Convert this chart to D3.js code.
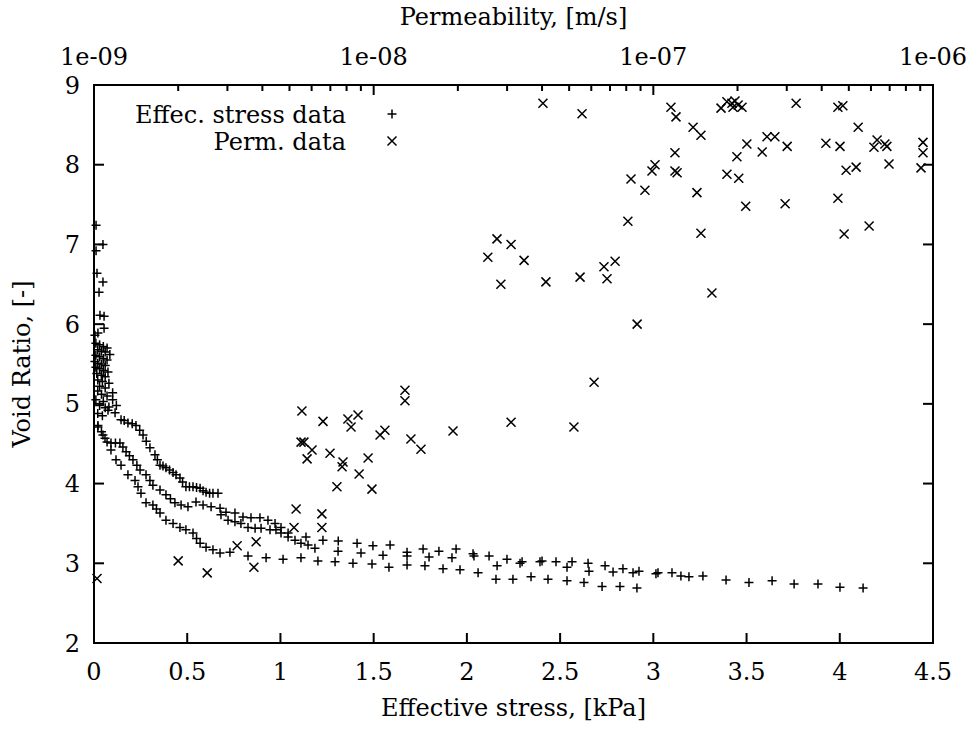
<!DOCTYPE html>
<html>
<head>
<meta charset="utf-8">
<script src="https://cdn.jsdelivr.net/npm/d3@7"></script>
<style>
  body { margin: 0; background: #fff; }
  text { font-family: "DejaVu Serif", serif; fill: #000; }
</style>
</head>
<body>
<div id="chart"></div>
<script>
// Effective stress data, [kPa] vs void ratio
const stressKPa = [
  0.011, 0.048, 0.011, 0.016, 0.048, 0.027, 0.032, 0.054, 0.054, 0.021, 0.005,
  0.01, 0.03, 0.05, 0.07, 0.02, 0.04, 0.06, 0.085, 0.01, 0.03, 0.05, 0.07, 0.005, 0.02, 0.04, 0.06,
  0.01, 0.03, 0.05, 0.075, 0.015, 0.04, 0.06, 0.02, 0.045, 0.08, 0.03, 0.06, 0.1, 0.02, 0.04, 0.07,
  0.01, 0.05, 0.03, 0.06, 0.02, 0.045, 0.08, 0.1, 0.12,
  0.075, 0.113, 0.145, 0.162, 0.182, 0.205, 0.225, 0.245, 0.263, 0.28, 0.3, 0.327, 0.34, 0.354,
  0.37, 0.386, 0.405, 0.424, 0.44, 0.461, 0.475, 0.493, 0.512, 0.531, 0.55, 0.569, 0.585, 0.601,
  0.62, 0.638, 0.665,
  0.021, 0.04, 0.059, 0.091, 0.115, 0.139, 0.155, 0.172, 0.19, 0.209, 0.23, 0.247, 0.279, 0.3,
  0.316, 0.354, 0.386, 0.41, 0.434, 0.467, 0.504, 0.547, 0.585, 0.628, 0.676, 0.708, 0.756, 0.799,
  0.842, 0.89, 0.933, 0.971, 1.003, 1.041, 1.078, 1.11, 1.148, 1.185,
  0.681, 0.719, 0.756, 0.788, 0.826, 0.864, 0.896, 0.944, 0.976, 1.003, 1.041,
  0.021, 0.048, 0.07, 0.091, 0.118, 0.145, 0.182, 0.22, 0.236, 0.252, 0.279, 0.316, 0.335, 0.354,
  0.386, 0.424, 0.461, 0.493, 0.531, 0.55, 0.569, 0.601, 0.638, 0.676, 0.729, 0.826, 0.923, 1.014,
  1.11, 1.201, 1.293,
  1.137, 1.228, 1.31,
  1.411, 1.496, 1.588, 1.679, 1.765, 1.85, 1.942, 2.033, 2.119, 2.215, 2.296, 2.392, 2.478, 2.564,
  2.65, 2.741, 2.837,
  1.309, 1.432, 1.55, 1.679, 1.797, 1.92, 2.038, 2.162, 2.285, 2.403, 2.537, 2.655, 2.784, 2.891,
  1.389, 1.491, 1.582, 1.679, 1.775, 1.872, 1.963, 2.06, 2.156, 2.247, 2.344, 2.435, 2.537, 2.628,
  2.725, 2.821, 2.912,
  2.923, 3.014, 3.025, 3.1, 3.148, 3.191, 3.266, 3.39, 3.513, 3.637, 3.755, 3.883, 4.001, 4.125
];
const stressVoid = [
  7.24, 7.00, 6.92, 6.64, 6.53, 6.40, 6.11, 6.10, 5.95, 5.89, 5.86,
  5.76, 5.74, 5.72, 5.70, 5.68, 5.66, 5.65, 5.62, 5.61, 5.59, 5.57, 5.55, 5.53, 5.51, 5.50, 5.48,
  5.46, 5.44, 5.42, 5.40, 5.38, 5.36, 5.34, 5.30, 5.28, 5.26, 5.22, 5.20, 5.14, 5.16, 5.12, 5.10,
  5.05, 5.03, 4.98, 4.95, 4.88, 4.85, 4.96, 5.05, 4.98,
  4.92, 4.89, 4.80, 4.79, 4.76, 4.75, 4.73, 4.67, 4.61, 4.53, 4.45, 4.36, 4.30, 4.23,
  4.22, 4.20, 4.17, 4.14, 4.11, 4.07, 4.02, 3.96, 3.96, 3.96, 3.95, 3.94, 3.91, 3.89,
  3.88, 3.88, 3.88,
  4.73, 4.65, 4.57, 4.51, 4.51, 4.51, 4.46, 4.40, 4.35, 4.30, 4.23, 4.17, 4.11, 4.04,
  3.98, 3.92, 3.86, 3.81, 3.76, 3.73, 3.71, 3.77, 3.73, 3.71, 3.69, 3.64, 3.63, 3.58,
  3.57, 3.57, 3.54, 3.50, 3.45, 3.38, 3.29, 3.25, 3.23, 3.19,
  3.61, 3.54, 3.52, 3.50, 3.45, 3.44, 3.44, 3.42, 3.42, 3.38, 3.33,
  4.71, 4.61, 4.52, 4.42, 4.30, 4.23, 4.11, 4.04, 3.96, 3.88, 3.76, 3.73, 3.68, 3.63,
  3.54, 3.50, 3.45, 3.42, 3.38, 3.31, 3.25, 3.20, 3.17, 3.13, 3.14, 3.09, 3.07, 3.05,
  3.07, 3.03, 3.02,
  3.33, 3.29, 3.28,
  3.25, 3.22, 3.23, 3.14, 3.18, 3.15, 3.18, 3.12, 3.09, 3.05, 3.02, 3.02, 3.02, 3.02,
  3.00, 2.97, 2.93,
  3.15, 3.13, 3.10, 3.09, 3.08, 3.07, 3.09, 2.97, 3.00, 3.03, 2.95, 2.90, 2.89, 2.88,
  3.00, 2.99, 2.95, 2.98, 2.97, 2.93, 2.92, 2.88, 2.80, 2.80, 2.83, 2.80, 2.78, 2.76,
  2.71, 2.71, 2.69,
  2.90, 2.87, 2.88, 2.88, 2.84, 2.83, 2.84, 2.79, 2.76, 2.78, 2.74, 2.74, 2.70, 2.69
];

// Permeability data, [m/s] vs void ratio
const permMs = [
  1.025e-9, 2.0e-9, 2.54e-9, 3.73e-9, 3.25e-9, 3.80e-9, 5.19e-9, 6.53e-9, 5.28e-9, 6.53e-9,
  5.54e-9, 6.59e-9, 5.50e-9, 5.63e-9, 6.02e-9, 5.78e-9, 6.98e-9, 8.09e-9, 8.79e-9, 8.30e-9,
  1.294e-8, 1.294e-8, 1.054e-8, 1.097e-8, 1.359e-8, 1.476e-8, 1.922e-8, 3.10e-8, 5.20e-8, 6.14e-8,
  7.77e-9, 7.71e-9, 9.55e-9, 8.87e-9, 7.39e-9, 9.86e-9,
  4.03e-8, 5.56e-8, 8.32e-8, 8.11e-8, 2.76e-8, 3.10e-8, 2.56e-8, 3.45e-8, 2.85e-8, 4.13e-8,
  5.47e-8, 6.66e-8, 7.30e-8, 6.83e-8, 8.75e-8,
  1.156e-7, 1.205e-7, 1.387e-7, 1.480e-7, 1.195e-7, 1.195e-7, 1.216e-7, 1.014e-7, 9.89e-8, 9.33e-8,
  1.432e-7, 1.480e-7, 1.62e-7,
  1.746e-7, 1.833e-7, 1.91e-7, 1.959e-7, 2.01e-7, 2.075e-7, 1.927e-7,
  3.24e-7, 4.57e-7, 4.76e-7, 5.40e-7, 1.99e-7, 2.16e-7, 1.833e-7, 2.02e-7, 2.45e-7, 2.55e-7,
  2.72e-7, 3.01e-7, 2.14e-7, 2.96e-7, 4.14e-7, 4.65e-7, 4.57e-7, 4.81e-7, 4.89e-7, 5.31e-7,
  5.91e-7, 6.15e-7, 6.31e-7, 6.73e-7, 6.84e-7, 6.96e-7, 9.21e-7, 9.21e-7, 9.06e-7
];
const permVoid = [
  2.81, 3.03, 2.88, 2.95, 3.22, 3.27, 3.45, 3.45, 3.68, 3.62,
  4.91, 4.78, 4.52, 4.52, 4.42, 4.31, 4.38, 4.81, 4.86, 4.71,
  5.17, 5.04, 4.61, 4.67, 4.56, 4.43, 4.66, 4.77, 4.71, 5.27,
  4.27, 4.21, 4.32, 4.12, 3.96, 3.93,
  8.77, 8.64, 7.82, 7.29, 7.07, 7.00, 6.84, 6.80, 6.50, 6.53,
  6.59, 6.72, 6.79, 6.57, 6.00,
  8.72, 8.60, 8.47, 8.37, 8.15, 7.92, 7.90, 8.00, 7.92, 7.68,
  7.65, 7.14, 6.39,
  8.71, 8.79, 8.77, 8.80, 8.75, 8.72, 8.72,
  8.77, 8.72, 8.74, 8.47, 8.10, 8.26, 7.88, 7.83, 8.16, 8.35,
  8.35, 8.23, 7.48, 7.51, 8.27, 8.23, 7.58, 7.13, 7.93, 7.97,
  7.23, 8.22, 8.31, 8.26, 8.23, 8.01, 8.28, 8.15, 7.96
];

const xTicks = [0, 0.5, 1, 1.5, 2, 2.5, 3, 3.5, 4, 4.5];
const yTicks = [2, 3, 4, 5, 6, 7, 8, 9];
const permTicks = [1e-9, 1e-8, 1e-7, 1e-6];
const permTickLabels = ["1e-09", "1e-08", "1e-07", "1e-06"];
const legendLabels = ["Effec. stress data", "Perm. data"];

const W = 970, H = 731;
const margin = { top: 85, right: 37, bottom: 88, left: 94 };
const width = W - margin.left - margin.right;
const height = H - margin.top - margin.bottom;
const fontSize = 24;

const svg = d3.select("#chart")
    .append("svg")
    .attr("width", W)
    .attr("height", H);
const g = svg.append("g")
    .attr("transform", "translate(" + margin.left + "," + margin.top + ")");

const x = d3.scaleLinear().domain([0, 4.5]).range([0, width]);
const y = d3.scaleLinear().domain([2, 9]).range([height, 0]);
const k = d3.scaleLog().domain([1e-9, 1e-6]).range([0, width]);

const majorLen = 10, minorLen = 6;

// Bottom axis: ticks inward, labels below
g.selectAll(".xtick")
    .data(xTicks.slice(1, -1))
    .enter()
    .append("line")
    .attr("x1", d => x(d)).attr("x2", d => x(d))
    .attr("y1", height).attr("y2", height - majorLen)
    .attr("stroke", "#000").attr("stroke-width", 2);
g.selectAll(".xlabel")
    .data(xTicks)
    .enter()
    .append("text")
    .attr("x", d => x(d))
    .attr("y", height + 37)
    .attr("text-anchor", "middle")
    .style("font-size", fontSize + "px")
    .text(d => d);

// Left and right y ticks
g.selectAll(".ytickL")
    .data(yTicks)
    .enter()
    .append("line")
    .attr("x1", 0).attr("x2", majorLen)
    .attr("y1", d => y(d)).attr("y2", d => y(d))
    .attr("stroke", "#000").attr("stroke-width", 2);
g.selectAll(".ytickR")
    .data(yTicks)
    .enter()
    .append("line")
    .attr("x1", width).attr("x2", width - majorLen)
    .attr("y1", d => y(d)).attr("y2", d => y(d))
    .attr("stroke", "#000").attr("stroke-width", 2);
g.selectAll(".ylabel")
    .data(yTicks)
    .enter()
    .append("text")
    .attr("x", -14)
    .attr("y", d => y(d))
    .attr("dy", "0.36em")
    .attr("text-anchor", "end")
    .style("font-size", fontSize + "px")
    .text(d => d);

// Top log axis (permeability)
const permMinor = [];
permTicks.slice(0, -1).forEach(p => {
    for (let m = 2; m <= 9; m++) permMinor.push(p * m);
});
g.selectAll(".ktick")
    .data(permTicks)
    .enter()
    .append("line")
    .attr("x1", d => k(d)).attr("x2", d => k(d))
    .attr("y1", 0).attr("y2", majorLen)
    .attr("stroke", "#000").attr("stroke-width", 2);
g.selectAll(".kminor")
    .data(permMinor)
    .enter()
    .append("line")
    .attr("x1", d => k(d)).attr("x2", d => k(d))
    .attr("y1", 0).attr("y2", minorLen)
    .attr("stroke", "#000").attr("stroke-width", 2);
g.selectAll(".klabel")
    .data(permTicks)
    .enter()
    .append("text")
    .attr("x", d => k(d))
    .attr("y", -20)
    .attr("text-anchor", "middle")
    .style("font-size", fontSize + "px")
    .text((d, i) => permTickLabels[i]);

// Border
g.append("rect")
    .attr("width", width).attr("height", height)
    .attr("fill", "none")
    .attr("stroke", "#000").attr("stroke-width", 2);

// Axis titles
g.append("text")
    .attr("x", width / 2).attr("y", height + 73)
    .attr("text-anchor", "middle")
    .style("font-size", fontSize + "px")
    .text("Effective stress, [kPa]");
g.append("text")
    .attr("x", width / 2).attr("y", -60)
    .attr("text-anchor", "middle")
    .style("font-size", fontSize + "px")
    .text("Permeability, [m/s]");
g.append("text")
    .attr("transform", "translate(" + (-64) + "," + (height / 2) + ")rotate(-90)")
    .attr("text-anchor", "middle")
    .style("font-size", fontSize + "px")
    .text("Void Ratio, [-]");

// Markers
const ms = 4.5;
const plusPath = `M${-ms},0H${ms}M0,${-ms}V${ms}`;
const crossPath = `M${-ms},${-ms}L${ms},${ms}M${-ms},${ms}L${ms},${-ms}`;

g.append("g").selectAll("path")
    .data(stressKPa.map((s, i) => [s, stressVoid[i]]))
    .enter()
    .append("path")
    .attr("d", plusPath)
    .attr("transform", d => `translate(${x(d[0])},${y(d[1])})`)
    .attr("stroke", "#000").attr("stroke-width", 1.5).attr("fill", "none");

g.append("g").selectAll("path")
    .data(permMs.map((p, i) => [p, permVoid[i]]))
    .enter()
    .append("path")
    .attr("d", crossPath)
    .attr("transform", d => `translate(${k(d[0])},${y(d[1])})`)
    .attr("stroke", "#000").attr("stroke-width", 1.5).attr("fill", "none");

// Legend
const legend = g.append("g").attr("transform", "translate(252, 29)");
const legends = legend.selectAll(".legend")
    .data(legendLabels)
    .enter()
    .append("g")
    .attr("transform", (d, i) => `translate(0, ${i * 27})`);
legends.append("text")
    .attr("x", 0)
    .attr("dy", "0.36em")
    .attr("text-anchor", "end")
    .style("font-size", fontSize + "px")
    .text(d => d);
legends.append("path")
    .attr("d", (d, i) => i === 0 ? plusPath : crossPath)
    .attr("transform", "translate(46, 0)")
    .attr("stroke", "#000").attr("stroke-width", 1.5).attr("fill", "none");
</script>
</body>
</html>
